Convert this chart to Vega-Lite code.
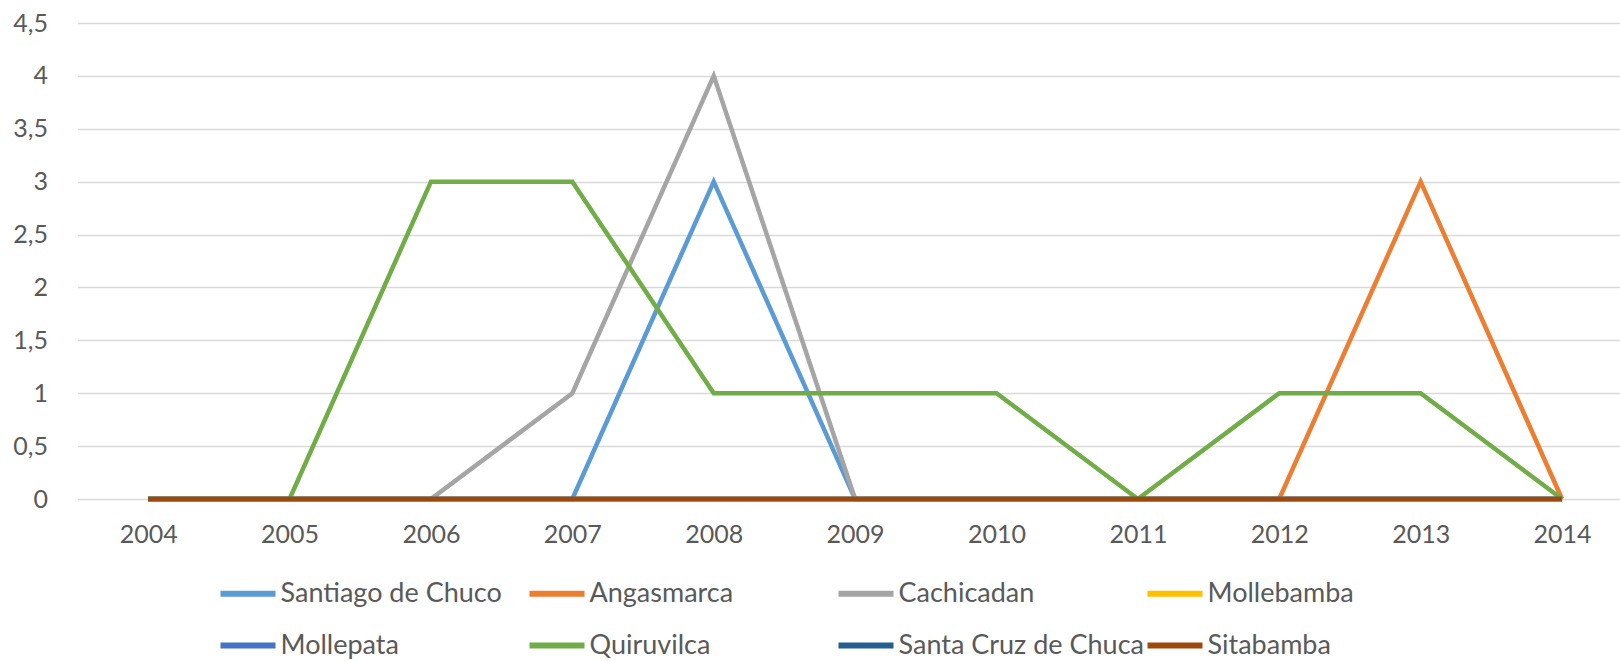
{
  "$schema": "https://vega.github.io/schema/vega-lite/v6.json",
  "autosize": {"type": "none"},
  "width": 1542.5,
  "height": 476,
  "padding": {"left": 77.5, "top": 23, "right": 0, "bottom": 162},
  "background": "white",
  "config": {
    "view": {"stroke": null},
    "font": "Lato",
    "axis": {"labelFont": "Lato", "labelColor": "#595959", "labelFontSize": 25}
  },
  "data": {"values": [
    {"m": "Santiago de Chuco", "y": 2004, "v": 0}, {"m": "Santiago de Chuco", "y": 2005, "v": 0}, {"m": "Santiago de Chuco", "y": 2006, "v": 0}, {"m": "Santiago de Chuco", "y": 2007, "v": 0}, {"m": "Santiago de Chuco", "y": 2008, "v": 3}, {"m": "Santiago de Chuco", "y": 2009, "v": 0}, {"m": "Santiago de Chuco", "y": 2010, "v": 0}, {"m": "Santiago de Chuco", "y": 2011, "v": 0}, {"m": "Santiago de Chuco", "y": 2012, "v": 0}, {"m": "Santiago de Chuco", "y": 2013, "v": 0}, {"m": "Santiago de Chuco", "y": 2014, "v": 0},
    {"m": "Angasmarca", "y": 2004, "v": 0}, {"m": "Angasmarca", "y": 2005, "v": 0}, {"m": "Angasmarca", "y": 2006, "v": 0}, {"m": "Angasmarca", "y": 2007, "v": 0}, {"m": "Angasmarca", "y": 2008, "v": 0}, {"m": "Angasmarca", "y": 2009, "v": 0}, {"m": "Angasmarca", "y": 2010, "v": 0}, {"m": "Angasmarca", "y": 2011, "v": 0}, {"m": "Angasmarca", "y": 2012, "v": 0}, {"m": "Angasmarca", "y": 2013, "v": 3}, {"m": "Angasmarca", "y": 2014, "v": 0},
    {"m": "Cachicadan", "y": 2004, "v": 0}, {"m": "Cachicadan", "y": 2005, "v": 0}, {"m": "Cachicadan", "y": 2006, "v": 0}, {"m": "Cachicadan", "y": 2007, "v": 1}, {"m": "Cachicadan", "y": 2008, "v": 4}, {"m": "Cachicadan", "y": 2009, "v": 0}, {"m": "Cachicadan", "y": 2010, "v": 0}, {"m": "Cachicadan", "y": 2011, "v": 0}, {"m": "Cachicadan", "y": 2012, "v": 0}, {"m": "Cachicadan", "y": 2013, "v": 0}, {"m": "Cachicadan", "y": 2014, "v": 0},
    {"m": "Mollebamba", "y": 2004, "v": 0}, {"m": "Mollebamba", "y": 2005, "v": 0}, {"m": "Mollebamba", "y": 2006, "v": 0}, {"m": "Mollebamba", "y": 2007, "v": 0}, {"m": "Mollebamba", "y": 2008, "v": 0}, {"m": "Mollebamba", "y": 2009, "v": 0}, {"m": "Mollebamba", "y": 2010, "v": 0}, {"m": "Mollebamba", "y": 2011, "v": 0}, {"m": "Mollebamba", "y": 2012, "v": 0}, {"m": "Mollebamba", "y": 2013, "v": 0}, {"m": "Mollebamba", "y": 2014, "v": 0},
    {"m": "Mollepata", "y": 2004, "v": 0}, {"m": "Mollepata", "y": 2005, "v": 0}, {"m": "Mollepata", "y": 2006, "v": 0}, {"m": "Mollepata", "y": 2007, "v": 0}, {"m": "Mollepata", "y": 2008, "v": 0}, {"m": "Mollepata", "y": 2009, "v": 0}, {"m": "Mollepata", "y": 2010, "v": 0}, {"m": "Mollepata", "y": 2011, "v": 0}, {"m": "Mollepata", "y": 2012, "v": 0}, {"m": "Mollepata", "y": 2013, "v": 0}, {"m": "Mollepata", "y": 2014, "v": 0},
    {"m": "Quiruvilca", "y": 2004, "v": 0}, {"m": "Quiruvilca", "y": 2005, "v": 0}, {"m": "Quiruvilca", "y": 2006, "v": 3}, {"m": "Quiruvilca", "y": 2007, "v": 3}, {"m": "Quiruvilca", "y": 2008, "v": 1}, {"m": "Quiruvilca", "y": 2009, "v": 1}, {"m": "Quiruvilca", "y": 2010, "v": 1}, {"m": "Quiruvilca", "y": 2011, "v": 0}, {"m": "Quiruvilca", "y": 2012, "v": 1}, {"m": "Quiruvilca", "y": 2013, "v": 1}, {"m": "Quiruvilca", "y": 2014, "v": 0},
    {"m": "Santa Cruz de Chuca", "y": 2004, "v": 0}, {"m": "Santa Cruz de Chuca", "y": 2005, "v": 0}, {"m": "Santa Cruz de Chuca", "y": 2006, "v": 0}, {"m": "Santa Cruz de Chuca", "y": 2007, "v": 0}, {"m": "Santa Cruz de Chuca", "y": 2008, "v": 0}, {"m": "Santa Cruz de Chuca", "y": 2009, "v": 0}, {"m": "Santa Cruz de Chuca", "y": 2010, "v": 0}, {"m": "Santa Cruz de Chuca", "y": 2011, "v": 0}, {"m": "Santa Cruz de Chuca", "y": 2012, "v": 0}, {"m": "Santa Cruz de Chuca", "y": 2013, "v": 0}, {"m": "Santa Cruz de Chuca", "y": 2014, "v": 0},
    {"m": "Sitabamba", "y": 2004, "v": 0}, {"m": "Sitabamba", "y": 2005, "v": 0}, {"m": "Sitabamba", "y": 2006, "v": 0}, {"m": "Sitabamba", "y": 2007, "v": 0}, {"m": "Sitabamba", "y": 2008, "v": 0}, {"m": "Sitabamba", "y": 2009, "v": 0}, {"m": "Sitabamba", "y": 2010, "v": 0}, {"m": "Sitabamba", "y": 2011, "v": 0}, {"m": "Sitabamba", "y": 2012, "v": 0}, {"m": "Sitabamba", "y": 2013, "v": 0}, {"m": "Sitabamba", "y": 2014, "v": 0}
  ]},
  "mark": {"type": "line", "strokeWidth": 4.5, "strokeJoin": "miter"},
  "encoding": {
    "x": {
      "field": "y", "type": "quantitative",
      "scale": {"domain": [2003.5, 2014.41], "nice": false, "zero": false},
      "axis": {"title": null, "values": [2004, 2005, 2006, 2007, 2008, 2009, 2010, 2011, 2012, 2013, 2014], "format": "d", "grid": false, "ticks": false, "domain": false, "labelPadding": 23}
    },
    "y": {
      "field": "v", "type": "quantitative",
      "scale": {"domain": [0, 4.5], "nice": false},
      "axis": {"title": null, "values": [0, 0.5, 1, 1.5, 2, 2.5, 3, 3.5, 4, 4.5], "labelExpr": "replace(format(datum.value, '.1~f'), '.', ',')", "grid": true, "gridColor": "#D9D9D9", "gridWidth": 1.5, "ticks": false, "domain": false, "labelPadding": 30}
    },
    "color": {
      "field": "m", "type": "nominal",
      "scale": {
        "domain": ["Santiago de Chuco", "Angasmarca", "Cachicadan", "Mollebamba", "Mollepata", "Quiruvilca", "Santa Cruz de Chuca", "Sitabamba"],
        "range": ["#5B9BD5", "#ED7D31", "#A5A5A5", "#FFC000", "#4472C4", "#70AD47", "#255E91", "#9E480E"]
      },
      "legend": {
        "title": null, "orient": "none", "legendX": 140, "legendY": 540,
        "values": ["Santiago de Chuco", "Mollepata", "Angasmarca", "Quiruvilca", "Cachicadan", "Santa Cruz de Chuca", "Mollebamba", "Sitabamba"],
        "columns": 4, "gridAlign": "all", "columnPadding": -15, "rowPadding": 8,
        "symbolType": "stroke", "symbolSize": 3025, "symbolStrokeWidth": 6,
        "labelFont": "Lato", "labelFontSize": 27, "labelColor": "#595959", "labelOffset": 2, "labelLimit": 400
      }
    }
  }
}
